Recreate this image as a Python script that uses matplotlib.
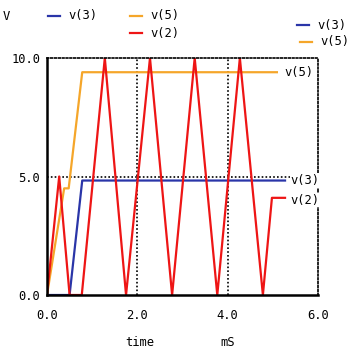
import numpy as np
import matplotlib
matplotlib.use("Agg")
import matplotlib.pyplot as plt

# traces (time in mS, volts)
t_v3 = [0.0, 0.5, 0.78, 5.27]
v3 = [0.0, 0.0, 4.83, 4.83]

t_v5 = [0.0, 0.38, 0.48, 0.78, 5.09]
v5 = [0.0, 4.5, 4.5, 9.4, 9.4]

t_v2 = [0.0, 0.27, 0.5, 0.77, 1.28, 1.75, 2.28, 2.77, 3.27, 3.77, 4.27, 4.78, 4.98, 5.27]
v2 = [0.0, 5.0, 0.0, 0.0, 10.0, 0.0, 10.0, 0.0, 10.0, 0.0, 10.0, 0.0, 4.1, 4.1]

x_ticks = [0.0, 2.0, 4.0, 6.0]
y_ticks = [0.0, 5.0, 10.0]

c_blue = "#2a35a8"
c_orange = "#f5a62a"
c_red = "#ee1515"

plt.rcParams['font.family'] = ['DejaVu Sans Mono']
fs = 8.7

fig = plt.figure(figsize=(3.56, 3.5), dpi=100)
ax = fig.add_axes([47/356, 55/350, 271/356, 237/350])

ax.plot(t_v3, v3, color=c_blue, lw=1.6)
ax.plot(t_v5, v5, color=c_orange, lw=1.6)
ax.plot(t_v2, v2, color=c_red, lw=1.6)

ax.set_xlim(0, 6)
ax.set_ylim(0, 10)
ax.set_xticks(x_ticks)
ax.set_yticks(y_ticks)
ax.set_xticklabels(["%.1f" % v for v in x_ticks], fontsize=fs)
ax.set_yticklabels(["%.1f" % v for v in y_ticks], fontsize=fs)
ax.tick_params(axis="x", length=0, pad=10)
ax.tick_params(axis="y", length=0, pad=5)

dots = (0, (1, 1.3))
for y in [5.0]:
	ax.axhline(y, color="black", lw=1.2, ls=dots, zorder=0)
for x in [2.0, 4.0]:
	ax.axvline(x, color="black", lw=1.2, ls=dots, zorder=0)

ax.spines['left'].set_linewidth(1.8)
ax.spines['bottom'].set_linewidth(1.8)
ax.spines['top'].set_linestyle(dots)
ax.spines['right'].set_linestyle(dots)
ax.spines['top'].set_linewidth(1.2)
ax.spines['right'].set_linewidth(1.2)

# end-of-trace labels
box = dict(facecolor="white", edgecolor="none", pad=0.5)
ax.text(5.25, 9.4, "v(5)", fontsize=fs, va="center", ha="left", bbox=box, zorder=5)
ax.text(5.4, 4.83, "v(3)", fontsize=fs, va="center", ha="left", bbox=box, zorder=5)
ax.text(5.4, 4.0, "v(2)", fontsize=fs, va="center", ha="left", bbox=box, zorder=5)

# axis names
fig.text(140/356, 1 - 342/350, "time", fontsize=fs, ha="center", va="center")
fig.text(228/356, 1 - 342/350, "mS", fontsize=fs, ha="center", va="center")
fig.text(6/356, 1 - 16/350, "V", fontsize=fs, ha="center", va="center")

# legend entries at the top
def key(x, y, color, label):
	fig.add_artist(plt.Line2D([x/356, (x + 12)/356], [1 - y/350, 1 - y/350], color=color, lw=1.6))
	fig.text((x + 20)/356, 1 - y/350, label, fontsize=fs, ha="left", va="center")

key(48, 16, c_blue, "v(3)")
key(130, 16, c_orange, "v(5)")
key(130, 33, c_red, "v(2)")
key(297, 25, c_blue, "v(3)")
key(300, 42, c_orange, "v(5)")

fig.savefig("out.png", dpi=100)
